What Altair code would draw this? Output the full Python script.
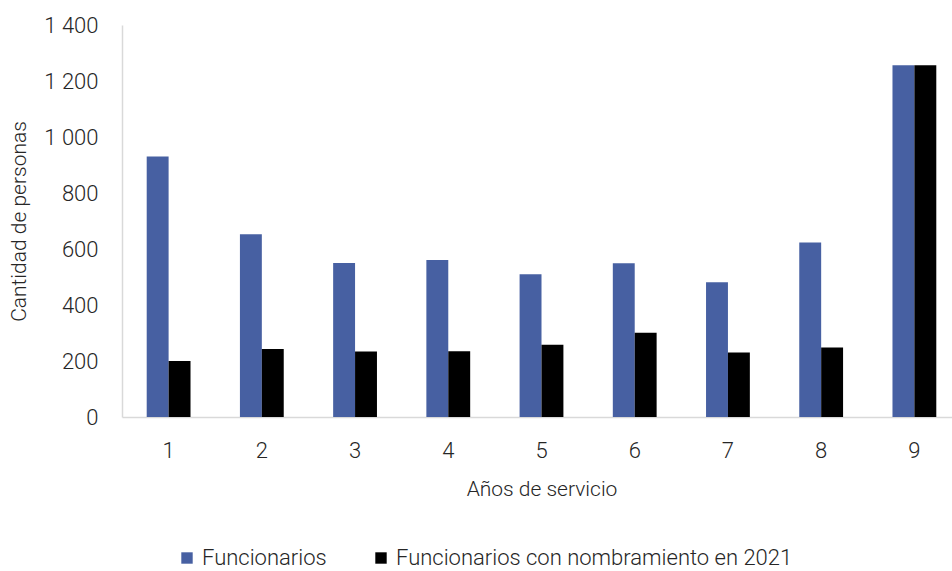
import altair as alt
import pandas as pd

years = ["1", "2", "3", "4", "5", "6", "7", "8", "9"]
funcionarios = [930, 653, 550, 561, 510, 549, 481, 623, 1256]
nombrados = [200, 243, 234, 235, 258, 301, 230, 248, 1256]
series = ["Funcionarios", "Funcionarios con nombramiento en 2021"]
colors = ["#4760A2", "#000000"]

rows = []
for i, y in enumerate(years):
    rows.append({"anio": y, "serie": series[0], "valor": funcionarios[i]})
    rows.append({"anio": y, "serie": series[1], "valor": nombrados[i]})
df = pd.DataFrame(rows)

FONT = "Roboto, sans-serif"
FW = 300
FS = 22
TXT = "#262626"

chart = alt.Chart(df).mark_bar().encode(
    x=alt.X("anio:N", sort=years,
            scale=alt.Scale(range=[0, 839], paddingInner=0.53, paddingOuter=0.265),
            axis=alt.Axis(title="Años de servicio", labelAngle=0, ticks=False,
                          labelPadding=23, titlePadding=17, domainColor="#d9d9d9",
                          domainWidth=1.5, labelFontSize=FS, titleFontSize=21,
                          labelFontWeight=FW, titleFontWeight=FW,
                          labelColor=TXT, titleColor=TXT, grid=False)),
    xOffset=alt.XOffset("serie:N", sort=series, scale=alt.Scale(paddingInner=0, paddingOuter=0)),
    y=alt.Y("valor:Q", scale=alt.Scale(domain=[0, 1400], nice=False),
            axis=alt.Axis(title="Cantidad de personas", values=[0, 200, 400, 600, 800, 1000, 1200, 1400],
                          labelExpr="replace(format(datum.value, ','), ',', ' ')",
                          ticks=False, labelPadding=24, titlePadding=14,
                          domainColor="#d9d9d9", domainWidth=1.5, grid=False,
                          labelFontSize=FS, titleFontSize=21,
                          labelFontWeight=FW, titleFontWeight=FW,
                          labelColor=TXT, titleColor=TXT)),
    color=alt.Color("serie:N", sort=series,
                    scale=alt.Scale(domain=series, range=colors),
                    legend=alt.Legend(title=None, orient="none", direction="horizontal",
                                      legendX=54, legendY=522, symbolType="square",
                                      symbolSize=130, symbolStrokeWidth=0,
                                      labelFontSize=FS, labelFontWeight=FW, labelColor=TXT,
                                      labelOffset=4, labelLimit=0, columnPadding=43)),
).properties(
    width=830, height=392,
    autosize=alt.AutoSizeParams(type="none"),
    padding={"left": 122, "top": 25, "right": 0, "bottom": 154},
).configure(font=FONT).configure_view(stroke=None)

chart.save("out.html", embed_options={"renderer": "svg", "actions": False})
